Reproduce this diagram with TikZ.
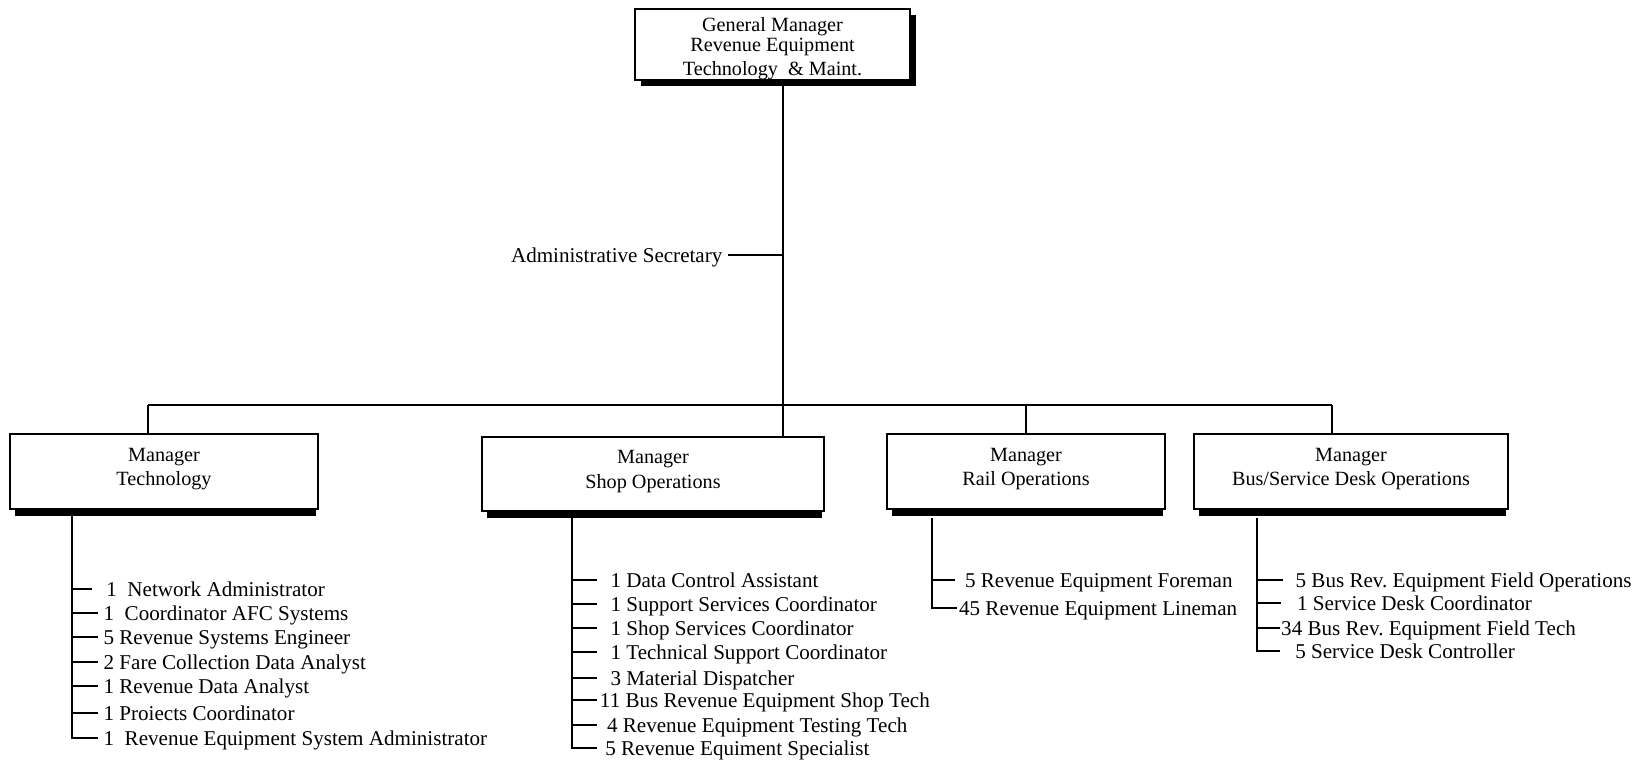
\documentclass[tikz,border=0pt]{standalone}
\usepackage{fontspec}
\setmainfont{Liberation Serif}
\usetikzlibrary{calc, shadows}

\begin{document}
\begin{tikzpicture}[x=0.02cm, y=-0.02cm,
  box/.style={draw, line width=1.1pt, fill=white, inner sep=0pt},
  boxtext/.style={align=center, inner sep=0pt, font=\fontsize{11.5}{14}\selectfont},
  mgr/.style={box, minimum height=1.5cm, label={[boxtext, yshift=1.5pt]center:#1}},
  conn/.style={line width=1.1pt},
  staff/.style={anchor=west, inner xsep=#1, inner ysep=1pt, text height=8pt, text depth=0pt,
    font=\fontsize{12}{14}\selectfont},
  staff/.default=3pt,
  bar/.style={fill=black}]
  \useasboundingbox (0,0) rectangle (1650,761);

  % General manager
  \node[box, minimum width=5.5cm, minimum height=1.42cm,
    drop shadow={shadow xshift=0.12cm, shadow yshift=-0.12cm, fill=black, opacity=1},
    label={[boxtext, yshift=-2.4pt]center:General Manager\\[-2.5pt]Revenue Equipment\\Technology\ \ \&~Maint.}]
    (gm) at (772.5,44.5) {};

  % Managers
  \node[mgr={Manager\\Technology}, minimum width=6.16cm] (tech) at (164,471.5) {};
  \node[mgr={Manager\\Shop Operations}, minimum width=6.84cm, minimum height=1.48cm] (shop) at (653,474) {};
  \node[mgr={Manager\\Rail Operations}, minimum width=5.56cm] (rail) at (1026,471.5) {};
  \node[mgr={Manager\\Bus/Service Desk Operations}, minimum width=6.28cm] (bsd) at (1351,471.5) {};
  \fill[bar] ($(tech.south west)+(6,0)$) rectangle ($(tech.south east)+(-3,6)$);
  \fill[bar] ($(shop.south west)+(6,0)$) rectangle ($(shop.south east)+(-3,6)$);
  \fill[bar] ($(rail.south west)+(6,0)$) rectangle ($(rail.south east)+(-3,6)$);
  \fill[bar] ($(bsd.south west)+(6,0)$) rectangle ($(bsd.south east)+(-3,6)$);

  % Trunk and bus line
  \coordinate (trunk) at (783,405);
  \coordinate (busL) at (148,405);
  \coordinate (busR) at (1332,405);
  \node[staff, anchor=east] (sec) at (728,255) {Administrative Secretary};
  \draw[conn] (gm.south -| trunk) -- (shop.north -| trunk);
  \draw[conn] (sec.east) -- (sec.east -| trunk);
  \draw[conn] (busL) -- (busR);
  \draw[conn] (busL) -- (busL |- tech.north);
  \draw[conn] (rail.north) -- (rail.north |- trunk);
  \draw[conn] (busR) -- (busR |- bsd.north);

  % Technology staff
  \node[staff=8pt] (t1) at (92,589) {1\ \ Network Administrator};
  \node[staff] (t2) at (98,613) {1\ \ Coordinator AFC Systems};
  \node[staff] (t3) at (98,637) {5 Revenue Systems Engineer};
  \node[staff] (t4) at (98,662) {2 Fare Collection Data Analyst};
  \node[staff] (t5) at (98,686) {1 Revenue Data Analyst};
  \node[staff] (t6) at (98,713) {1 Proiects Coordinator};
  \node[staff] (t7) at (98,738) {1\ \ Revenue Equipment System Administrator};
  \coordinate (ts) at (72,514);
  \draw[conn] (ts) |- (t7.west);
  \draw[conn] (ts |- t1.west) -- (t1.west) (ts |- t2.west) -- (t2.west)
    (ts |- t3.west) -- (t3.west) (ts |- t4.west) -- (t4.west)
    (ts |- t5.west) -- (t5.west) (ts |- t6.west) -- (t6.west);

  % Shop staff
  \node[staff=7.5pt] (s1) at (597,580) {1 Data Control Assistant};
  \node[staff=7.5pt] (s2) at (597,604) {1 Support Services Coordinator};
  \node[staff=7.5pt] (s3) at (597,628) {1 Shop Services Coordinator};
  \node[staff=7.5pt] (s4) at (597,652) {1 Technical Support Coordinator};
  \node[staff=7.5pt] (s5) at (597,678) {3 Material Dispatcher};
  \node[staff=1.5pt] (s6) at (597,700) {11 Bus Revenue Equipment Shop Tech};
  \node[staff=5.5pt] (s7) at (597,725) {4 Revenue Equipment Testing Tech};
  \node[staff=4.5pt] (s8) at (597,748) {5 Revenue Equiment Specialist};
  \coordinate (ss) at (572,518);
  \draw[conn] (ss) |- (s8.west);
  \draw[conn] (ss |- s1.west) -- (s1.west) (ss |- s2.west) -- (s2.west)
    (ss |- s3.west) -- (s3.west) (ss |- s4.west) -- (s4.west)
    (ss |- s5.west) -- (s5.west) (ss |- s6.west) -- (s6.west)
    (ss |- s7.west) -- (s7.west);

  % Rail staff
  \node[staff=5.5pt] (r1) at (955,580) {5 Revenue Equipment Foreman};
  \node[staff=1pt] (r2) at (957,608) {45 Revenue Equipment Lineman};
  \coordinate (rs) at (932,518);
  \draw[conn] (rs) |- (r2.west);
  \draw[conn] (rs |- r1.west) -- (r1.west);

  % Bus/service desk staff
  \node[staff=7pt] (b1) at (1283,580) {5 Bus Rev.\ Equipment Field Operations};
  \node[staff=9pt] (b2) at (1281,603) {1 Service Desk Coordinator};
  \node[staff=0.5pt] (b3) at (1280,628) {34 Bus Rev.\ Equipment Field Tech};
  \node[staff=8.5pt] (b4) at (1280,651) {5 Service Desk Controller};
  \coordinate (bs) at (1257,518);
  \draw[conn] (bs) |- (b4.west);
  \draw[conn] (bs |- b1.west) -- (b1.west) (bs |- b2.west) -- (b2.west)
    (bs |- b3.west) -- (b3.west);
\end{tikzpicture}
\end{document}
